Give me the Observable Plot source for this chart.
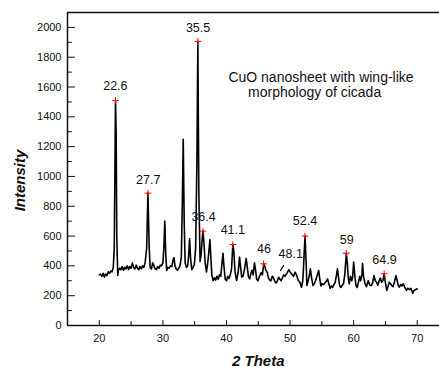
<!DOCTYPE html>
<html><head><meta charset="utf-8">
<script src="https://cdn.jsdelivr.net/npm/d3@7"></script>
<script src="https://cdn.jsdelivr.net/npm/@observablehq/plot@0.6"></script>
<style>html,body{margin:0;padding:0;background:#fff;overflow:hidden}</style>
</head><body><div id="chart"></div>
<script>
// XRD pattern: [2 theta, intensity]
const pattern = [
[20.0,340],[20.2,345],[20.4,330],[20.6,350],[20.8,325],[21.0,345],[21.2,335],[21.4,360],[21.6,350],[21.8,365],
[22.0,360],[22.2,390],[22.35,520],[22.45,1000],[22.55,1510],[22.65,1300],[22.75,600],[22.9,335],[23.0,370],[23.2,385],
[23.4,375],[23.6,395],[23.8,370],[24.0,390],[24.2,380],[24.4,400],[24.6,375],[24.8,395],[25.0,385],[25.2,420],
[25.4,390],[25.6,380],[25.8,405],[26.0,385],[26.2,375],[26.4,395],[26.6,380],[26.8,400],[27.0,390],[27.2,420],
[27.45,520],[27.65,888],[27.85,520],[28.0,390],[28.2,380],[28.4,420],[28.6,400],[28.8,380],[29.0,375],[29.2,395],
[29.4,385],[29.6,405],[29.8,400],[30.0,420],[30.15,520],[30.3,700],[30.45,480],[30.6,370],[30.8,390],[31.0,385],
[31.2,400],[31.4,395],[31.6,440],[31.75,455],[31.9,400],[32.1,380],[32.3,370],[32.5,385],[32.7,400],[32.9,460],
[33.05,800],[33.2,1250],[33.35,700],[33.5,420],[33.7,390],[33.9,400],[34.05,470],[34.2,584],[34.35,450],[34.55,375],
[34.75,390],[34.95,410],[35.15,520],[35.35,1100],[35.5,1906],[35.65,900],[35.85,430],[36.0,470],[36.15,560],[36.3,633],
[36.45,560],[36.65,420],[36.85,360],[37.0,400],[37.2,480],[37.4,577],[37.55,450],[37.7,340],[37.9,300],[38.1,320],
[38.3,305],[38.5,330],[38.7,310],[38.9,340],[39.1,330],[39.3,420],[39.45,485],[39.6,400],[39.8,310],[40.0,300],
[40.2,330],[40.4,315],[40.6,340],[40.8,380],[41.0,543],[41.15,500],[41.35,360],[41.6,302],[41.85,360],[42.05,460],
[42.2,400],[42.4,324],[42.6,330],[42.85,380],[43.1,450],[43.25,400],[43.45,330],[43.65,313],[43.85,350],[44.0,370],
[44.2,340],[44.4,420],[44.55,380],[44.75,310],[44.95,300],[45.2,330],[45.45,355],[45.65,340],[45.85,414],[46.0,400],
[46.2,370],[46.4,358],[46.6,320],[46.8,305],[47.0,300],[47.2,330],[47.35,325],[47.55,300],[47.8,284],[48.0,300],
[48.2,324],[48.4,310],[48.6,300],[48.8,320],[49.0,340],[49.2,330],[49.5,350],[49.8,374],[50.0,360],[50.3,342],
[50.55,330],[50.8,358],[51.0,340],[51.3,302],[51.55,290],[51.8,257],[52.0,300],[52.15,420],[52.35,600],[52.5,450],
[52.65,268],[52.85,300],[53.05,340],[53.2,380],[53.35,330],[53.6,268],[53.8,280],[54.0,300],[54.3,340],[54.5,369],
[54.65,320],[54.85,265],[55.05,280],[55.3,275],[55.55,290],[55.75,300],[55.9,313],[56.1,280],[56.3,250],[56.5,265],
[56.7,255],[56.9,275],[57.1,290],[57.3,340],[57.45,380],[57.6,330],[57.8,265],[58.0,255],[58.2,270],[58.4,280],
[58.6,340],[58.85,485],[59.0,420],[59.15,320],[59.3,280],[59.5,330],[59.7,300],[59.85,330],[60.0,425],[60.15,350],
[60.35,270],[60.55,255],[60.75,290],[60.95,330],[61.1,300],[61.3,340],[61.4,418],[61.55,330],[61.8,280],[62.0,260],
[62.3,300],[62.55,270],[62.8,268],[63.0,290],[63.2,335],[63.4,300],[63.6,290],[63.8,270],[64.0,300],[64.2,318],
[64.4,290],[64.6,300],[64.8,347],[64.95,300],[65.2,235],[65.4,260],[65.6,290],[65.8,280],[66.0,268],[66.2,260],
[66.4,290],[66.65,335],[66.85,300],[67.0,270],[67.2,257],[67.4,275],[67.6,265],[67.8,280],[68.0,260],[68.3,235],
[68.5,250],[68.8,240],[69.0,250],[69.3,217],[69.5,235],[69.7,240],[70.0,246]
];
const peakPos = [22.55, 27.65, 35.5, 36.3, 41.0, 45.85, 52.35, 58.85, 64.8];
const peakInt = [1510, 888, 1906, 633, 543, 414, 600, 485, 347];
const labelText = ["22.6","27.7","35.5","36.4","41.1","46","48.1","52.4","59","64.9"];
const labelX = [22.53, 27.7, 35.53, 36.4, 41.0, 45.9, 50.1, 52.35, 58.9, 64.85];
const labelY = [1577, 951, 1968, 700, 615, 485, 456, 671, 548, 414];
const pointerX = [49.0, 48.5];
const pointerY = [403, 369];
const noteLines = ["CuO nanosheet with wing-like", "morphology of cicada"];
const noteX = [40.3, 43.4];
const noteY = [1637, 1532];
const xMajor = [20, 30, 40, 50, 60, 70];
const xMinor = [25, 35, 45, 55, 65];
const yMajor = [0, 200, 400, 600, 800, 1000, 1200, 1400, 1600, 1800, 2000];
const yMinor = [100, 300, 500, 700, 900, 1100, 1300, 1500, 1700, 1900];
const xLabel = "2 Theta";
const yLabel = "Intensity";

const peaks = peakPos.map((x, i) => ({x, y: peakInt[i]}));
const labels = labelText.map((t, i) => ({t, x: labelX[i], y: labelY[i]}));
const notes = noteLines.map((t, i) => ({t, x: noteX[i], y: noteY[i]}));
const pointer = pointerX.map((x, i) => ({x, y: pointerY[i]}));

const tickShape = {draw(context, l) { context.moveTo(0, 0); context.lineTo(0, -l); }};
const font = "Liberation Sans, Arial, sans-serif";
const chart = Plot.plot({
  width: 439, height: 367,
  marginLeft: 67, marginRight: 0, marginTop: 12, marginBottom: 42,
  style: {fontFamily: font, fontSize: "11px", color: "#111", background: "#fff"},
  x: {domain: [15, 73.5]},
  y: {domain: [0, 2100]},
  marks: [
    Plot.ruleY([0], {stroke: "#111", strokeWidth: 1.5}),
    Plot.ruleY([2100], {stroke: "#111", strokeWidth: 1.5}),
    Plot.ruleX([15], {stroke: "#111", strokeWidth: 1.5}),
    Plot.vector(yMajor, {x: 15, y: d => d, length: 7, rotate: 90, anchor: "start", shape: tickShape, stroke: "#111", strokeWidth: 1}),
    Plot.vector(yMinor, {x: 15, y: d => d, length: 4, rotate: 90, anchor: "start", shape: tickShape, stroke: "#111", strokeWidth: 1}),
    Plot.vector(xMajor, {x: d => d, y: 0, length: 5, rotate: 0, anchor: "start", shape: tickShape, stroke: "#111", strokeWidth: 1}),
    Plot.vector(xMinor, {x: d => d, y: 0, length: 4, rotate: 0, anchor: "start", shape: tickShape, stroke: "#111", strokeWidth: 1}),
    Plot.axisY(yMajor, {tickSize: 0, tickPadding: 6, fontSize: 11, label: null, fill: "#111", tickFormat: d => String(d)}),
    Plot.axisX(xMajor, {tickSize: 0, tickPadding: 9, fontSize: 11, label: null, fill: "#111", tickFormat: d => String(d)}),
    Plot.line(pattern, {x: d => d[0], y: d => d[1], stroke: "#000", strokeWidth: 1.6}),
    Plot.line(pointer, {x: "x", y: "y", stroke: "#000", strokeWidth: 1.2}),
    Plot.dot(peaks, {x: "x", y: "y", symbol: "plus", r: 2.3, stroke: "red", strokeWidth: 1}),
    Plot.text(labels, {x: "x", y: "y", text: "t", fontSize: 12.5, lineAnchor: "bottom", fill: "#111"}),
    Plot.text(notes, {x: "x", y: "y", text: "t", fontSize: 14, textAnchor: "start", lineAnchor: "bottom", fill: "#111"}),
    Plot.text([xLabel], {x: 45, frameAnchor: "bottom", dy: 40, textAnchor: "middle", lineAnchor: "bottom", fontSize: 15, fontWeight: "bold", fontStyle: "italic", fill: "#111"}),
    Plot.text([yLabel], {y: 973, frameAnchor: "left", dx: -47, rotate: -90, textAnchor: "middle", lineAnchor: "middle", fontSize: 15, fontWeight: "bold", fontStyle: "italic", fill: "#111"})
  ]
});
document.getElementById("chart").appendChild(chart);
</script>
</body></html>
